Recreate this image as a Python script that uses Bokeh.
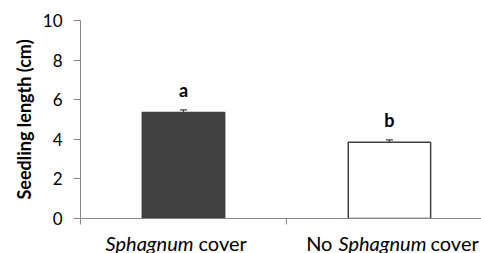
from bokeh.plotting import figure
from bokeh.models import ColumnDataSource, Range1d, FixedTicker, Whisker, TeeHead
from bokeh.layouts import column
from bokeh.core.properties import value
from bokeh.embed import file_html
from bokeh.resources import INLINE

# data
categories = ["Sphagnum cover", "No Sphagnum cover"]
means = [5.35, 3.85]
errors = [0.14, 0.12]
letters = ["a", "b"]
fills = ["#404040", "#ffffff"]
y_ticks = [0, 2, 4, 6, 8, 10]

xpos = [i + 0.5 for i in range(len(categories))]
src = ColumnDataSource(dict(
    x=xpos, top=means, upper=[m + e for m, e in zip(means, errors)],
    lower=means, fill=fills, letter=letters,
    ly=[m + e + 1.0 for m, e in zip(means, errors)],
))

FONT = "Lato"
xr = Range1d(0, 1.947)
p = figure(width=481, height=228, output_backend="svg", toolbar_location=None,
           x_range=xr, y_range=Range1d(0, 10),
           min_border_left=80, min_border_top=20, min_border_bottom=10, min_border_right=0)
p.outline_line_color = None
p.xgrid.grid_line_color = None
p.ygrid.grid_line_color = None

p.vbar(x="x", top="top", width=0.40, bottom=0, fill_color="fill",
       line_color="#404040", line_width=1.5, source=src)

w = Whisker(base="x", upper="upper", lower="lower", source=src,
            line_color="#404040", line_width=1.2,
            upper_head=TeeHead(size=7, line_color="#404040", line_width=1.2),
            lower_head=None)
p.add_layout(w)

p.text(x="x", y="ly", text="letter", source=src, text_align="center",
       text_baseline="alphabetic", text_font=value(FONT), text_font_style="bold",
       text_font_size="18px", text_color="black")

# y axis
ya = p.yaxis[0]
ya.ticker = FixedTicker(ticks=y_ticks)
ya.minor_tick_line_color = None
ya.axis_line_color = "#868686"
ya.major_tick_line_color = "#868686"
ya.major_tick_in = 0
ya.major_tick_out = 7
ya.major_label_standoff = 11
ya.major_label_text_font = FONT
ya.major_label_text_font_size = "17px"
ya.major_label_text_color = "black"
ya.axis_label = "Seedling length (cm)"
ya.axis_label_text_font = FONT
ya.axis_label_text_font_style = "bold"
ya.axis_label_text_font_size = "18px"
ya.axis_label_text_color = "black"
ya.axis_label_standoff = 5

# x axis (category boundaries ticked, names drawn below with italics)
xa = p.xaxis[0]
xa.ticker = FixedTicker(ticks=[0, 1, 2])
xa.minor_tick_line_color = None
xa.axis_line_color = "#868686"
xa.major_tick_line_color = "#868686"
xa.major_tick_in = 0
xa.major_tick_out = 6
xa.major_label_overrides = {0: "", 1: "", 2: ""}
xa.major_label_text_font_size = "1px"

# category labels (italic genus name) in a strip below the chart
q = figure(width=481, height=25, output_backend="svg", toolbar_location=None,
           x_range=xr, y_range=Range1d(0, 1),
           min_border_left=80, min_border_top=0, min_border_bottom=0, min_border_right=0)
q.axis.visible = False
q.grid.visible = False
q.outline_line_color = None
LY = 0.44

def seg(x, text, style, align, xoff):
    q.text(x=[x], y=[LY], text=[text], text_font=value(FONT), text_font_style=style,
           text_font_size="20px", text_color="black", text_align=align,
           text_baseline="alphabetic", x_offset=xoff)

# "Sphagnum cover"
seg(xpos[0], "Sphagnum", "italic", "right", 10)
seg(xpos[0], "cover", "normal", "left", 15)
# "No Sphagnum cover"
seg(xpos[1], "No", "normal", "right", -57)
seg(xpos[1], "Sphagnum", "italic", "center", -7)
seg(xpos[1], "cover", "normal", "left", 41)

open("out.html", "w").write(file_html(column(p, q, spacing=0), INLINE))
